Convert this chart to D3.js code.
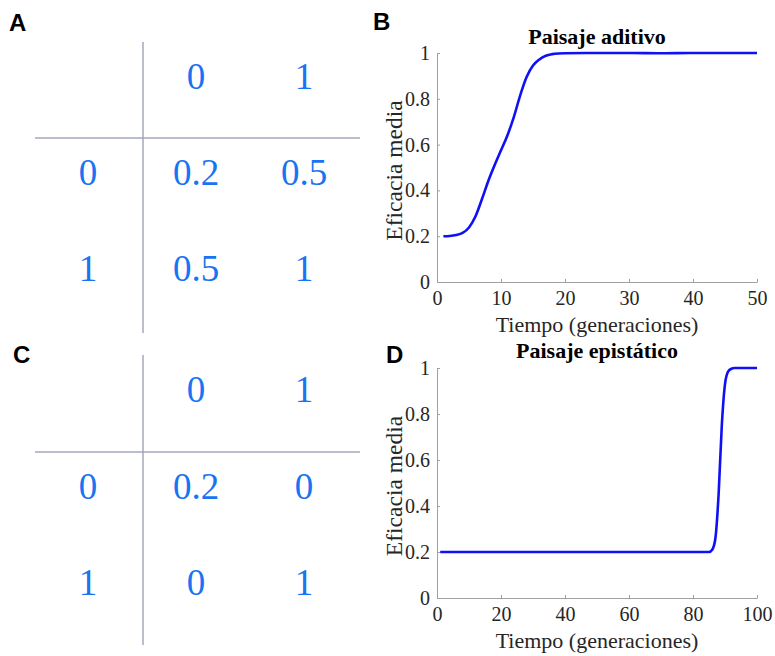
<!DOCTYPE html>
<meta charset="utf-8">
<style>
body { margin: 0; background: #fff; }
svg { display: block; }
.tick-lbl { font-family: "Liberation Serif", "Times New Roman", serif; fill: #262626; }
.panel-lbl { font-family: "Liberation Sans", Arial, sans-serif; font-weight: bold; font-size: 24px; fill: #000; }
.cell { font-family: "Liberation Serif", "Times New Roman", serif; font-size: 37px; fill: #1874f2; }
</style>
<svg width="775" height="656"></svg>
<script src="https://d3js.org/d3.v7.min.js"></script>
<script>

// fitness tables (genotype 0/1 at each locus)
var colLabels = ["0", "1"];
var rowLabels = ["0", "1"];
var additiveTable = [[0.2, 0.5], [0.5, 1]];
var epistaticTable = [[0.2, 0], [0, 1]];

// mean fitness over time, additive landscape
var addGen = [1, 2, 3, 4, 5, 6, 7, 8, 9, 10, 11, 12, 13, 14, 15, 16, 17, 18, 19, 20, 25, 30, 35, 40, 45, 50];
var addFit = [0.2, 0.201, 0.205, 0.214, 0.238, 0.286, 0.36, 0.44, 0.51, 0.575, 0.64, 0.72, 0.815, 0.895, 0.945, 0.972, 0.988, 0.995, 0.998, 0.999, 1, 1, 0.999, 1, 1, 1];

// mean fitness over time, epistatic landscape
var epiGen = [1, 10, 20, 30, 40, 50, 60, 70, 80, 85, 86, 87, 88, 89, 90, 91, 92, 93, 95, 100];
var epiFit = [0.2, 0.2, 0.2, 0.2, 0.2, 0.2, 0.2, 0.2, 0.2, 0.2, 0.21, 0.26, 0.45, 0.75, 0.93, 0.985, 0.997, 1, 1, 1];

var yTicks = [0, 0.2, 0.4, 0.6, 0.8, 1];

var svg = d3.select("svg");

function drawTable(values, hLineY, vTop, vBottom, rowRange) {
  var g = svg.append("g");
  var x = d3.scalePoint().domain(["row"].concat(colLabels)).range([88, 304]);
  var y = d3.scalePoint().domain(["hdr"].concat(rowLabels)).range(rowRange);

  g.append("line")
      .attr("x1", 35).attr("x2", 360)
      .attr("y1", hLineY).attr("y2", hLineY)
      .attr("stroke", "#a3a7ba").attr("stroke-width", 1.5);
  g.append("line")
      .attr("x1", 143).attr("x2", 143)
      .attr("y1", vTop).attr("y2", vBottom)
      .attr("stroke", "#a3a7ba").attr("stroke-width", 1.5);

  g.selectAll(".col").data(colLabels).enter().append("text")
      .attr("class", "cell")
      .attr("text-anchor", "middle")
      .attr("x", function(d) { return x(d); })
      .attr("y", y("hdr"))
      .attr("dy", "0.33em")
      .text(function(d) { return d; });

  g.selectAll(".rowl").data(rowLabels).enter().append("text")
      .attr("class", "cell")
      .attr("text-anchor", "middle")
      .attr("x", x("row"))
      .attr("y", function(d) { return y(d); })
      .attr("dy", "0.33em")
      .text(function(d) { return d; });

  values.forEach(function(row, i) {
    g.selectAll(".v" + i).data(row).enter().append("text")
        .attr("class", "cell")
        .attr("text-anchor", "middle")
        .attr("x", function(d, j) { return x(colLabels[j]); })
        .attr("y", y(rowLabels[i]))
        .attr("dy", "0.33em")
        .text(function(d) { return d; });
  });
}

function drawPlot(gens, fits, xMax, xTicks, top, bottom, title, titleY, xLabelY) {
  var g = svg.append("g");
  var x = d3.scaleLinear().domain([0, xMax]).range([437, 757]);
  var y = d3.scaleLinear().domain([0, 1]).range([bottom, top]);

  var xAxis = g.append("g")
      .attr("transform", "translate(0," + bottom + ")")
      .call(d3.axisBottom(x).tickValues(xTicks).tickSizeInner(-3).tickSizeOuter(0).tickPadding(9).tickFormat(d3.format("d")));
  var yAxis = g.append("g")
      .attr("transform", "translate(437,0)")
      .call(d3.axisLeft(y).tickValues(yTicks).tickSizeInner(-3).tickSizeOuter(0).tickPadding(7).tickFormat(function(d) { return String(d); }));

  [xAxis, yAxis].forEach(function(a) {
    a.select(".domain").attr("stroke", "#a0a0a0");
    a.selectAll(".tick line").attr("stroke", "#a0a0a0");
    a.selectAll(".tick text")
        .attr("class", "tick-lbl")
        .style("font-size", "20px");
  });

  g.append("path")
      .datum(gens.map(function(d, i) { return [d, fits[i]]; }))
      .attr("fill", "none")
      .attr("stroke", "#1010f5")
      .attr("stroke-width", 2.6)
      .attr("stroke-linejoin", "round")
      .attr("d", d3.line()
          .x(function(d) { return x(d[0]); })
          .y(function(d) { return y(d[1]); })
          .curve(d3.curveMonotoneX));

  g.append("text")
      .attr("x", 597).attr("y", titleY)
      .attr("text-anchor", "middle")
      .style("font-family", "Liberation Serif, serif")
      .style("font-weight", "bold")
      .style("font-size", "22px")
      .text(title);

  g.append("text")
      .attr("x", 597).attr("y", xLabelY)
      .attr("text-anchor", "middle")
      .attr("class", "tick-lbl")
      .style("font-size", "22px")
      .text("Tiempo (generaciones)");

  g.append("text")
      .attr("transform", "translate(402," + ((top + bottom) / 2 + 3) + ") rotate(-90)")
      .attr("text-anchor", "middle")
      .attr("class", "tick-lbl")
      .style("font-size", "23.5px")
      .text("Eficacia media");
}

drawTable(additiveTable, 138, 42, 333, [77, 269]);
drawTable(epistaticTable, 452, 355, 645, [390, 583]);

drawPlot(addGen, addFit, 50, [0, 10, 20, 30, 40, 50], 53, 282, "Paisaje aditivo", 44, 332);
drawPlot(epiGen, epiFit, 100, [0, 20, 40, 60, 80, 100], 368, 598, "Paisaje epistático", 358, 648);

svg.append("text").attr("class", "panel-lbl").attr("x", 9).attr("y", 31).text("A");
svg.append("text").attr("class", "panel-lbl").attr("x", 373).attr("y", 30).text("B");
svg.append("text").attr("class", "panel-lbl").attr("x", 13).attr("y", 363).text("C");
svg.append("text").attr("class", "panel-lbl").attr("x", 386).attr("y", 363).text("D");

</script>
